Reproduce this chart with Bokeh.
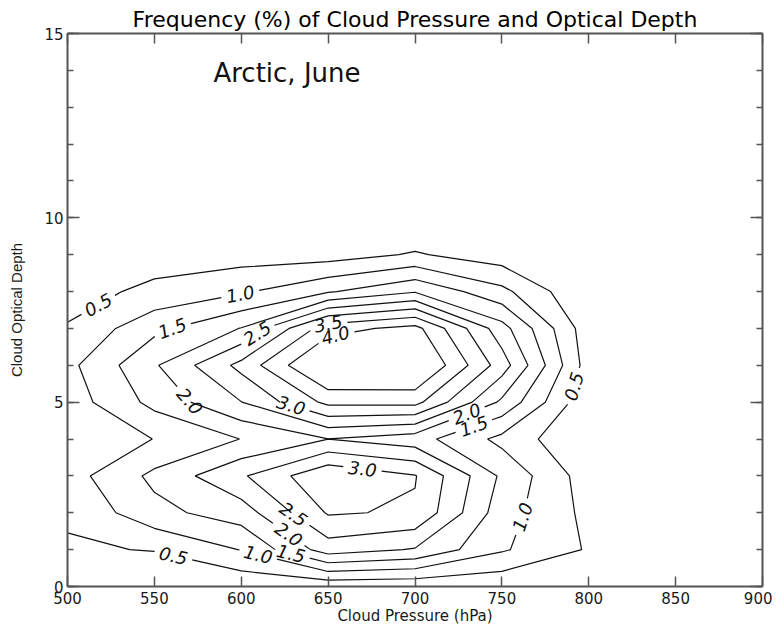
import numpy as np
import contourpy
from bokeh.plotting import figure
from bokeh.models import LinearAxis, FixedTicker, Range1d, Label, ColumnDataSource
from bokeh.core.properties import value
from bokeh.embed import file_html
from bokeh.resources import INLINE

# ---------------- data ----------------
pressure = [500, 550, 600, 650, 700, 750, 800]          # hPa (grid columns)
optical_depth = [0, 1, 2, 3, 4, 5, 6, 7, 8, 9, 10]      # grid rows
# frequency (%) on each optical-depth row, one value per pressure column
freq_tau0 = [0.05, 0.10, 0.12, 0.14, 0.11, 0.11, 0.00]
freq_tau1 = [0.45, 0.52, 1.02, 2.25, 1.96, 1.06, 0.45]
freq_tau2 = [0.56, 1.35, 1.75, 3.05, 2.94, 1.22, 0.36]
freq_tau3 = [0.78, 1.62, 2.43, 3.43, 3.03, 1.41, 0.24]
freq_tau4 = [0.60, 1.01, 1.51, 1.995, 1.71, 0.86, 0.00]
freq_tau5 = [0.73, 1.65, 2.49, 3.63, 3.66, 1.90, 0.10]
freq_tau6 = [0.86, 1.94, 3.15, 4.72, 4.68, 2.75, 0.25]
freq_tau7 = [0.54, 1.37, 2.02, 3.80, 4.17, 2.20, 0.19]
freq_tau8 = [0.30, 0.62, 0.93, 1.45, 1.96, 1.14, 0.00]
freq_tau9 = [0.10, 0.27, 0.28, 0.28, 0.55, 0.23, 0.00]
freq_tau10 = [0.00, 0.00, 0.00, 0.00, 0.00, 0.00, 0.00]
levels = [0.5, 1.0, 1.5, 2.0, 2.5, 3.0, 3.5, 4.0]
x_ticks = [500, 550, 600, 650, 700, 750, 800, 850, 900]
y_ticks = [0, 5, 10, 15]
y_minor_ticks = list(range(0, 16))

# where the contour labels sit (level, approx pressure, approx optical depth)
label_spots = [
    (0.5, 516, 7.78), (1.0, 599, 8.03), (1.5, 560, 7.06), (2.5, 608, 6.95),
    (3.5, 650, 7.15), (4.0, 654, 6.88), (2.0, 571, 5.05), (3.0, 629, 4.97),
    (2.0, 729, 4.78), (1.5, 733, 4.47), (0.5, 792, 5.42), (3.0, 670, 3.28),
    (2.5, 630, 1.95), (2.0, 628, 1.46), (1.5, 629, 0.96), (1.0, 610, 0.91),
    (0.5, 561, 0.85), (1.0, 764, 1.85),
]

Z = np.array([freq_tau0, freq_tau1, freq_tau2, freq_tau3, freq_tau4, freq_tau5,
              freq_tau6, freq_tau7, freq_tau8, freq_tau9, freq_tau10], dtype=float)

# ---------------- contour lines ----------------
cg = contourpy.contour_generator(x=np.array(pressure, float), y=np.array(optical_depth, float),
                                 z=Z, name="serial", line_type="Separate")
FRAME_W, FRAME_H = 696.0, 554.0
sx, sy = FRAME_W / 400.0, FRAME_H / 15.0

screen = {}
for lev in levels:
    screen[lev] = [np.asarray(l, float) * [sx, sy] for l in cg.lines(lev) if len(l) > 1]


def arclen(P):
    d = np.diff(P, axis=0)
    return np.concatenate([[0.0], np.cumsum(np.hypot(d[:, 0], d[:, 1]))])


def point_at(P, S, s):
    s = min(max(s, 0.0), S[-1])
    i = int(np.searchsorted(S, s, side="right") - 1)
    i = min(max(i, 0), len(S) - 2)
    seg = S[i + 1] - S[i]
    t = 0.0 if seg == 0 else (s - S[i]) / seg
    return P[i] + t * (P[i + 1] - P[i])


LABEL_PX = 18
char_w = {".": 0.318}


def text_width(t):
    return sum(char_w.get(c, 0.636) for c in t) * LABEL_PX


gaps = {}
lab_x, lab_y, lab_t, lab_a = [], [], [], []
for lev, x0, y0 in label_spots:
    q = np.array([x0 * sx, y0 * sy])
    best = None
    for k, P in enumerate(screen[lev]):
        S = arclen(P)
        for i in range(len(P) - 1):
            a, b = P[i], P[i + 1]
            d = b - a
            L2 = float(d @ d)
            if L2 == 0:
                continue
            t = float(np.clip((q - a) @ d / L2, 0, 1))
            c = a + t * d
            dist = float(np.hypot(*(q - c)))
            if best is None or dist < best[0]:
                best = (dist, k, S[i] + t * np.sqrt(L2))
    if best is None:
        continue
    _, k, s0 = best
    P = screen[lev][k]
    S = arclen(P)
    c = point_at(P, S, s0)
    d = point_at(P, S, s0 + 11) - point_at(P, S, s0 - 11)
    ang = float(np.arctan2(d[1], d[0]))
    if ang > np.pi / 2:
        ang -= np.pi
    if ang <= -np.pi / 2:
        ang += np.pi
    txt = f"{lev:.1f}"
    half = text_width(txt) / 2 + 5
    gaps.setdefault((lev, k), []).append((s0 - half, s0 + half))
    lab_x.append(c[0] / sx)
    lab_y.append(c[1] / sy)
    lab_t.append(txt)
    lab_a.append(ang)

xs, ys = [], []
for lev in levels:
    for k, P in enumerate(screen[lev]):
        S = arclen(P)
        keep, start = [], 0.0
        for a, b in sorted(gaps.get((lev, k), [])):
            if a > start:
                keep.append((start, a))
            start = max(start, b)
        if start < S[-1]:
            keep.append((start, S[-1]))
        for a, b in keep:
            pts = [point_at(P, S, a)] + [P[i] for i in range(len(P)) if a < S[i] < b] + [point_at(P, S, b)]
            pts = np.array(pts)
            xs.append((pts[:, 0] / sx).tolist())
            ys.append((pts[:, 1] / sy).tolist())

# ---------------- figure ----------------
p = figure(width=772, height=627, x_range=Range1d(500, 900), y_range=Range1d(0, 15),
           output_backend="svg", toolbar_location=None,
           min_border_left=67, min_border_right=10, min_border_top=33, min_border_bottom=40)
p.grid.visible = False
p.outline_line_color = None
p.background_fill_color = "white"

p.title.text = "Frequency (%) of Cloud Pressure and Optical Depth"
p.title.align = "center"
p.title.text_font = "DejaVu Sans"
p.title.text_font_size = "22px"
p.title.text_font_style = "normal"
p.title.text_color = "black"
p.title.standoff = 3

AX = "#555555"
xt = FixedTicker(ticks=x_ticks, minor_ticks=[])
yt = FixedTicker(ticks=y_ticks, minor_ticks=y_minor_ticks)


def style(ax, major_in):
    ax.major_tick_in = major_in
    ax.major_tick_out = 0
    ax.minor_tick_in = 6
    ax.minor_tick_out = 0
    ax.axis_line_color = AX
    ax.axis_line_width = 2
    ax.major_tick_line_color = AX
    ax.major_tick_line_width = 1.5
    ax.minor_tick_line_color = AX
    ax.minor_tick_line_width = 1.5
    ax.major_label_text_font = "DejaVu Sans"
    ax.major_label_text_font_size = "15px"
    ax.major_label_text_color = "#1a1a1a"


xa = p.xaxis[0]
xa.ticker = xt
style(xa, 10)
xa.major_label_standoff = 5
xa.axis_label = "Cloud Pressure (hPa)"
xa.axis_label_text_font = "DejaVu Sans"
xa.axis_label_text_font_size = "15px"
xa.axis_label_text_font_style = "normal"
xa.axis_label_text_color = "#1a1a1a"
xa.axis_label_standoff = 0

ya = p.yaxis[0]
ya.ticker = yt
style(ya, 12)
ya.major_label_standoff = 4
ya.axis_label = "Cloud Optical Depth"
ya.axis_label_text_font = "Liberation Sans"
ya.axis_label_text_font_size = "15px"
ya.axis_label_text_font_style = "normal"
ya.axis_label_text_color = "#1a1a1a"
ya.axis_label_standoff = 16

# frame ticks on the top and right sides, without labels
top = LinearAxis(ticker=xt)
style(top, 10)
top.major_label_text_font_size = "1px"
top.major_label_text_color = None
top.major_label_standoff = 0
p.add_layout(top, "above")

right = LinearAxis(ticker=yt)
style(right, 12)
right.major_label_text_font_size = "1px"
right.major_label_text_color = None
right.major_label_standoff = 0
p.add_layout(right, "right")

p.multi_line(xs, ys, line_color="#111111", line_width=1.2)

src = ColumnDataSource(dict(x=lab_x, y=lab_y, text=lab_t, angle=lab_a))
p.text(x="x", y="y", text="text", angle="angle", source=src,
       text_font=value("DejaVu Sans"), text_font_style="italic", text_font_size=f"{LABEL_PX}px",
       text_align="center", text_baseline="middle", text_color="#111111")

p.add_layout(Label(x=584, y=13.92, text="Arctic, June", text_font="DejaVu Sans",
                   text_font_size="26px", text_baseline="alphabetic", text_color="#111111"))

open("out.html", "w").write(file_html(p, INLINE))
